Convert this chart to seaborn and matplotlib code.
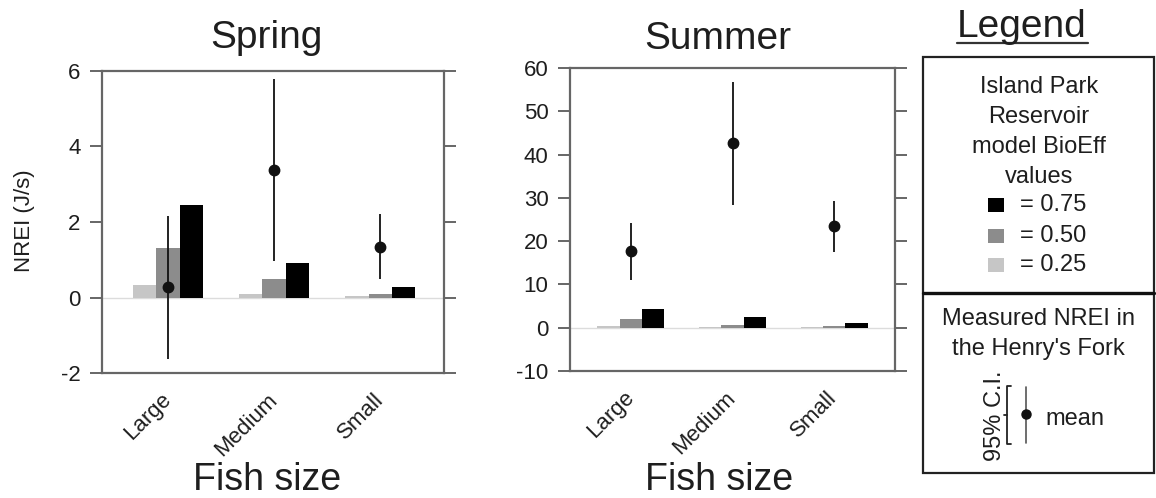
import numpy as np
import pandas as pd
import matplotlib
matplotlib.use("Agg")
import matplotlib.pyplot as plt
import seaborn as sns
from matplotlib.patches import Rectangle
from matplotlib.lines import Line2D

# ---------------- data ----------------
sizes = ["Large", "Medium", "Small"]
bioeff_levels = ["0.25", "0.50", "0.75"]
bar_colors = ["#c6c6c6", "#8c8c8c", "#000000"]

spring_025 = [0.32, 0.08, 0.03]
spring_050 = [1.30, 0.48, 0.10]
spring_075 = [2.44, 0.92, 0.27]
spring_mean = [0.29, 3.39, 1.35]
spring_lo = [-1.62, 0.98, 0.48]
spring_hi = [2.17, 5.80, 2.22]

summer_025 = [0.3, 0.2, 0.1]
summer_050 = [1.9, 0.6, 0.3]
summer_075 = [4.4, 2.4, 1.1]
summer_mean = [17.7, 42.7, 23.6]
summer_lo = [11.0, 28.3, 17.5]
summer_hi = [24.2, 56.8, 29.3]

spring_ticks = [-2, 0, 2, 4, 6]
summer_ticks = [-10, 0, 10, 20, 30, 40, 50, 60]

# ---------------- style ----------------
sns.set_theme(style="white")
plt.rcParams['font.family'] = ['Liberation Sans', 'DejaVu Sans']
TXT = "#1e1e1e"
SPINE = "#666666"

W, H = 1156, 498
fig = plt.figure(figsize=(W / 100, H / 100), dpi=100)


def px_axes(left, top, right, bottom):
    return fig.add_axes([left / W, 1 - bottom / H, (right - left) / W, (bottom - top) / H])


def panel(ax, b025, b050, b075, mean, lo, hi, ylim, yticks, xlim, title, tx, ty, lx, ly):
    df = pd.DataFrame({
        "size": sizes * 3,
        "BioEff": np.repeat(bioeff_levels, len(sizes)),
        "NREI": list(b025) + list(b050) + list(b075),
    })
    sns.barplot(data=df, x="size", y="NREI", hue="BioEff", hue_order=bioeff_levels,
                order=sizes, palette=bar_colors, width=0.66, gap=0, saturation=1,
                errorbar=None, legend=False, linewidth=0, ax=ax, zorder=2)
    ax.axhline(0, color="#dcdcdc", lw=1.0, zorder=1)
    x = np.arange(len(sizes))
    m = np.asarray(mean)
    ax.errorbar(x, m, yerr=[m - np.asarray(lo), np.asarray(hi) - m], fmt="o",
                color="#111111", ms=7.5, elinewidth=1.3, capsize=0, zorder=5)
    ax.set_ylim(*ylim)
    ax.set_xlim(*xlim)
    ax.set_yticks(yticks)
    ax.set_yticklabels([str(t) for t in yticks], fontsize=16, color=TXT)
    ax.set_xticks(x)
    ax.set_xticklabels(sizes, rotation=45, ha="right", va="center",
                       rotation_mode="anchor", fontsize=16, color=TXT)
    ax.tick_params(axis="y", which="both", left=True, right=True, labelright=False,
                   direction="out", length=8.5, width=1.4, color=SPINE, pad=7)
    ax.tick_params(axis="x", bottom=False, pad=11)
    for s in ax.spines.values():
        s.set_visible(True)
        s.set_color(SPINE)
        s.set_linewidth(1.6)
    ax.set_title(title, fontsize=28, color=TXT, x=tx, y=ty, va="baseline", pad=0)
    ax.set_xlabel("Fish size", fontsize=27, color=TXT)
    ax.xaxis.label.set_va("baseline")
    ax.xaxis.set_label_coords(lx, ly)


ax1 = px_axes(102, 71, 444, 373)
panel(ax1, spring_025, spring_050, spring_075, spring_mean, spring_lo, spring_hi,
      (-2, 6), spring_ticks, (-0.62, 2.6), "Spring",
      (266 - 102) / 342, (373 - 48) / 302, (267 - 102) / 342, (373 - 490) / 302)
ax1.set_ylabel("NREI (J/s)", fontsize=16, color=TXT)
ax1.yaxis.set_label_coords((35 - 102) / 342, 0.503)

ax2 = px_axes(570, 68, 895, 371)
panel(ax2, summer_025, summer_050, summer_075, summer_mean, summer_lo, summer_hi,
      (-10, 60), summer_ticks, (-0.6, 2.6), "Summer",
      (718 - 570) / 325, (371 - 49) / 303, (719 - 570) / 325, (371 - 490) / 303)
ax2.set_ylabel("")

# ---------------- legend (pixel overlay) ----------------
ov = fig.add_axes([0, 0, 1, 1])
ov.set_xlim(0, W)
ov.set_ylim(H, 0)
ov.axis("off")
ov.patch.set_alpha(0)

ov.text(1022, 37, "Legend", fontsize=28, color=TXT, ha="center", va="baseline")
ov.add_line(Line2D([957, 1088], [43, 43], color="#333333", lw=1.6))

ov.add_patch(Rectangle((923, 57), 1154 - 923, 473 - 57, fill=False,
                       edgecolor="#222222", lw=1.6))
ov.add_line(Line2D([923, 1154], [293, 293], color="#111111", lw=2.4))

for i, line in enumerate(["Island Park", "Reservoir", "model BioEff", "values"]):
    ov.text(1039, 93 + i * 30, line, fontsize=17, color=TXT, ha="center", va="baseline")

legend_rows = [("0.75", "#000000", 205), ("0.50", "#8c8c8c", 236), ("0.25", "#c6c6c6", 265)]
for lab, col, yc in legend_rows:
    ov.add_patch(Rectangle((988, yc - 7), 16, 14, facecolor=col, edgecolor="none"))
    ov.text(1020, yc, "= " + lab, fontsize=17, color=TXT, ha="left", va="center")

ov.text(1038, 325, "Measured NREI in", fontsize=17, color=TXT, ha="center", va="baseline")
ov.text(1038, 355, "the Henry's Fork", fontsize=17, color=TXT, ha="center", va="baseline")
ov.text(995, 416, "95% C.I.", fontsize=17, color=TXT, ha="center", va="center", rotation=90)
# brace
ov.add_line(Line2D([1011, 1007, 1007, 1011], [386, 386, 444, 444], color="#222222", lw=1.3))
ov.add_line(Line2D([1004, 1007], [415, 415], color="#222222", lw=1.3))
# errorbar glyph
ov.add_line(Line2D([1026, 1026], [387, 443], color="#555555", lw=1.2))
ov.plot([1026], [414], "o", color="#111111", ms=6.5)
ov.text(1045, 425, "mean", fontsize=17, color=TXT, ha="left", va="baseline")

fig.savefig("out.png", dpi=100)
